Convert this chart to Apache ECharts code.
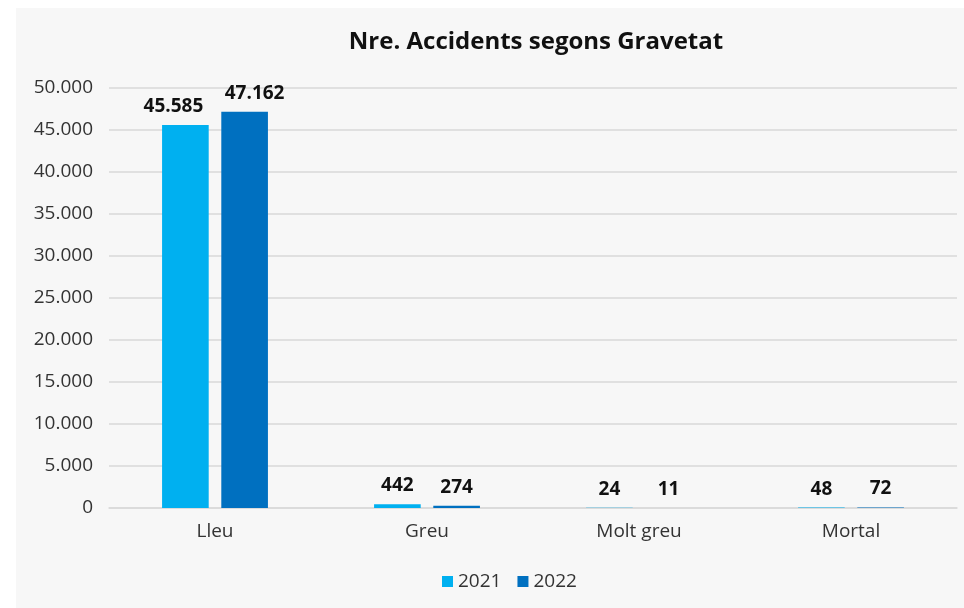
<!DOCTYPE html>
<html><head><meta charset="utf-8">
<script src="https://cdn.jsdelivr.net/npm/echarts@6/dist/echarts.min.js"></script>
<style>html,body{margin:0;padding:0;background:#fff;}#c{position:absolute;left:16px;top:8px;width:948px;height:600px;background:#f7f7f7;}</style>
</head><body><div id="c"></div>
<script>
const categories = ['Lleu', 'Greu', 'Molt greu', 'Mortal'];
const values2021 = [45585, 442, 24, 48];
const values2022 = [47162, 274, 11, 72];
const seriesNames = ['2021', '2022'];
const fmt = v => String(v).replace(/\B(?=(\d{3})+(?!\d))/g, '.');
const chart = echarts.init(document.getElementById('c'));
const labelStyle = {show: true, position: 'top', formatter: p => fmt(p.value), fontFamily: 'Open Sans', fontWeight: 'bold', fontSize: 19, color: '#111', distance: 9};
// Lleu labels are pushed apart (as in the original) so they don't collide
const withOffset = (arr, dx) => arr.map((v, i) => i === 0 ? {value: v, label: {offset: [dx, 0]}} : v);
chart.setOption({
  backgroundColor: '#f7f7f7',
  textStyle: {fontFamily: 'Open Sans'},
  title: {text: 'Nre. Accidents segons Gravetat', left: 515, top: 17, textAlign: 'center',
    textStyle: {fontFamily: 'Open Sans', fontWeight: 'bold', fontSize: 24, color: '#111'}},
  legend: {bottom: 12, left: 421, itemWidth: 11, itemHeight: 11, itemGap: 16,
    icon: 'rect', textStyle: {fontSize: 19, color: '#333', fontFamily: 'Open Sans'}, data: seriesNames},
  grid: {left: 93, right: 7, top: 80, bottom: 100},
  xAxis: {type: 'category', data: categories,
    axisLine: {lineStyle: {color: '#d9d9d9', width: 1.5}}, axisTick: {show: false},
    axisLabel: {fontSize: 19, color: '#333', margin: 14, fontFamily: 'Open Sans'}},
  yAxis: {type: 'value', min: 0, max: 50000, interval: 5000,
    axisLabel: {formatter: fmt, fontSize: 19, color: '#333', margin: 16, fontFamily: 'Open Sans'},
    splitLine: {lineStyle: {color: '#d9d9d9', width: 1.5}}},
  series: [
    {name: seriesNames[0], type: 'bar', data: withOffset(values2021, -12), barWidth: '22%', barGap: '27%',
      itemStyle: {color: '#00b0f0'}, label: labelStyle},
    {name: seriesNames[1], type: 'bar', data: withOffset(values2022, 10), barWidth: '22%',
      itemStyle: {color: '#0070c0'}, label: labelStyle}
  ]
});
</script></body></html>
